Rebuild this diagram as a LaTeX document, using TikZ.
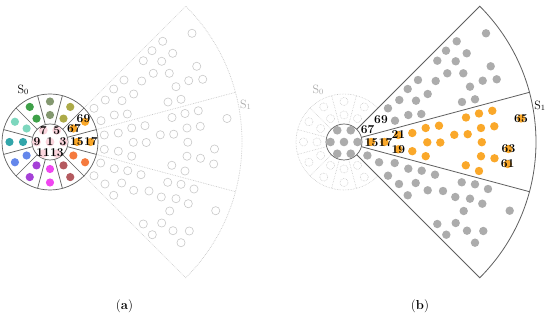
\documentclass[tikz,border=0pt]{standalone}
\definecolor{orng}{RGB}{250,168,42}
\definecolor{dotgray}{RGB}{172,172,172}
\definecolor{fanc}{RGB}{95,95,95}
\definecolor{ghost}{RGB}{200,200,200}
\definecolor{pinkc}{RGB}{250,212,220}
\definecolor{olivec}{RGB}{172,170,72}
\definecolor{sagec}{RGB}{132,152,112}
\definecolor{greenc}{RGB}{62,160,72}
\definecolor{aquac}{RGB}{125,215,190}
\definecolor{tealc}{RGB}{50,165,170}
\definecolor{bluec}{RGB}{100,135,235}
\definecolor{purplec}{RGB}{165,65,215}
\definecolor{magentac}{RGB}{240,70,240}
\definecolor{brownc}{RGB}{180,90,95}
\definecolor{coralc}{RGB}{245,122,62}
\newcommand\UpperDots{142/108.7,112.7/100.7,102/91.3,122.7/88.7,93.3/81.3,111.7/80.7,146.7/75.7,103.3/68.7,119.3/68.7,74/62,91.7/61,138.7/61.3,152.7/62.7,126/55.3,63.7/53,83.7/48,55.3/42,72/41.3,118/40,131/42.7,44/33.7,64.3/27,77.3/28,51/21.3}
\newcommand\MiddleDots{122/24.5,135/28.5,148.3/31.2,68.3/9,81.7/14,95/16.3,110.3/7.2,123.7/7.8,137/14,150.3/15.7,83.3/-0.3,96.3/-0.5,137.8/-0.2,68.3/-9.2,81.7/-14.2,137/-14.2,150.5/-16.3,121.8/-23.3,135/-29}
\newcommand\LabelDots{177/23.5,164.5/-7,163.7/-22,54.3/7,54.3/-7.3}
\newcommand\LowerDots{50.7/-21,64.3/-26.7,77.7/-28.7,91/-32.7,44/-33.7,55/-42,71.7/-41,117.7/-40.3,131/-42.3,144/-47,83.7/-48.3,99/-49,63.7/-53.3,111.3/-55,126/-56.7,138.3/-61.7,119.7/-69,165.7/-68.7,93.3/-82,111.7/-81,123/-88.7,139.3/-89,102.3/-92.7,131/-100.7}
\begin{document}
\begin{tikzpicture}[x=1pt,y=1pt]
\tikzset{
  num/.style={font=\fontsize{12}{12}\selectfont\bfseries, inner sep=0pt},
  slab/.style={font=\fontsize{12}{14}\selectfont, inner sep=0pt},
  captext/.style={font=\fontsize{13}{13}\selectfont, inner sep=0pt},
  fanline/.style={draw=fanc, line width=0.8pt},
  fanghost/.style={draw=ghost, densely dotted, line width=0.7pt},
  ghostcirc/.style={draw=ghost, line width=0.6pt},
  ghostdot/.style={draw=ghost, densely dotted, line width=0.6pt},
  s0line/.style={draw=fanc, line width=0.7pt},
}
\useasboundingbox (0,0) rectangle (550,316);

% ================= panel (a) =================
\begin{scope}[shift={(50,174)}]
  \draw[fanghost] (45:48) -- (45:192) arc[start angle=45, end angle=-45, radius=192] -- (-45:48);
  \draw[fanghost] (15:48) -- (15:192);
  \draw[fanghost] (-15:48) -- (-15:192);
  \foreach \x/\y in \UpperDots {\draw[ghostcirc] (\x,\y) circle (4.1);}
  \foreach \x/\y in \MiddleDots {\draw[ghostcirc] (\x,\y) circle (4.1);}
  \foreach \x/\y in \LabelDots {\draw[ghostcirc] (\x,\y) circle (4.1);}
  \foreach \x/\y in \LowerDots {\draw[ghostcirc] (\x,\y) circle (4.1);}
  \filldraw[fill=white, s0line] (0,0) circle (48);
  \draw[s0line] (0,0) circle (18);
  \foreach \a in {15,45,...,345} {\draw[s0line] (\a:18) -- (\a:48);}
  \foreach \a/\c in {60/olivec,90/sagec,120/greenc,150/aquac,180/tealc,210/bluec,240/purplec,270/magentac,300/brownc,330/coralc,0/orng,30/orng}
    {\fill[\c] (\a:27) circle (4.1); \fill[\c] (\a:40.5) circle (4.1);}
  \foreach \x/\y in {-6.75/11.7,6.75/11.7,-13.5/0,0/0,13.5/0,-6.75/-11.7,6.75/-11.7}
    {\fill[pinkc] (\x,\y) circle (4.4);}
  \node[num] (a7) at (-6.75,11.7) {7};
  \node[num] (a5) at (6.75,11.7) {5};
  \node[num] (a9) at (-13,0) {9};
  \node[num] (a1) at (0,0) {1};
  \node[num] (a3) at (13,0) {3};
  \node[num] (a11) at (-6.9,-11) {11};
  \node[num] (a13) at (6.9,-11) {13};
  \node[num] (a15) at (27,0) {15};
  \node[num] (a17) at (41,0) {17};
  \node[num] (a67) at (24,13.5) {67};
  \node[num] (a69) at (33.5,23.5) {69};
  \node[slab] (aS0) at (-26.7,52) {$\mathrm{S}_0$};
  \node[slab, text=ghost!85!black] (aS1) at (195.7,37) {$\mathrm{S}_1$};
\end{scope}
\node[captext] (capa) at (124.5,10) {(\textbf{a})};

% ================= panel (b) =================
\begin{scope}[shift={(344,174)}]
  \draw[ghostdot] (0,0) circle (48);
  \foreach \a in {15,45,...,345} {\draw[ghostdot] (\a:18) -- (\a:48);}
  \foreach \a in {60,90,...,300} {\draw[ghostdot] (\a:27) circle (4.1); \draw[ghostdot] (\a:40.5) circle (4.1);}
  \fill[white] (45:18) -- (45:192) arc[start angle=45, end angle=-45, radius=192] -- (-45:18) arc[start angle=-45, end angle=45, radius=18] -- cycle;
  \draw[fanline] (45:18) -- (45:192) arc[start angle=45, end angle=-45, radius=192] -- (-45:18);
  \draw[fanline] (15:18) -- (15:192);
  \draw[fanline] (-15:18) -- (-15:192);
  \foreach \x/\y in \UpperDots {\fill[dotgray] (\x,\y) circle (4.2);}
  \foreach \x/\y in \LowerDots {\fill[dotgray] (\x,\y) circle (4.2);}
  \fill[dotgray] (-30:27) circle (4.2);
  \fill[dotgray] (-30:40.5) circle (4.2);
  \foreach \x/\y in \MiddleDots {\fill[orng] (\x,\y) circle (4.2);}
  \foreach \x/\y in \LabelDots {\fill[orng] (\x,\y) circle (4.2);}
  \fill[orng] (0:27) circle (4.2);
  \fill[orng] (0:40.5) circle (4.2);
  \filldraw[fill=white, s0line] (0,0) circle (18);
  \foreach \x/\y in {-6.75/11.7,6.75/11.7,-13.5/0,0/0,13.5/0,-6.75/-11.7,6.75/-11.7}
    {\fill[dotgray] (\x,\y) circle (4.3);}
  \node[num] (b65) at (177,23.5) {65};
  \node[num] (b63) at (164.5,-7) {63};
  \node[num] (b61) at (163.7,-22) {61};
  \node[num] (b21) at (54.3,7) {21};
  \node[num] (b19) at (54.3,-7.3) {19};
  \node[num] (b15) at (27.5,-0.8) {15};
  \node[num] (b17) at (41.5,-0.8) {17};
  \node[num] (b67) at (23.7,12.7) {67};
  \node[num] (b69) at (37,22) {69};
  \node[slab, text=ghost!85!black] (bS0) at (-25.7,52) {$\mathrm{S}_0$};
  \node[slab] (bS1) at (196,36) {$\mathrm{S}_1$};
\end{scope}
\node[captext] (capb) at (420,10) {(\textbf{b})};
\end{tikzpicture}
\end{document}
